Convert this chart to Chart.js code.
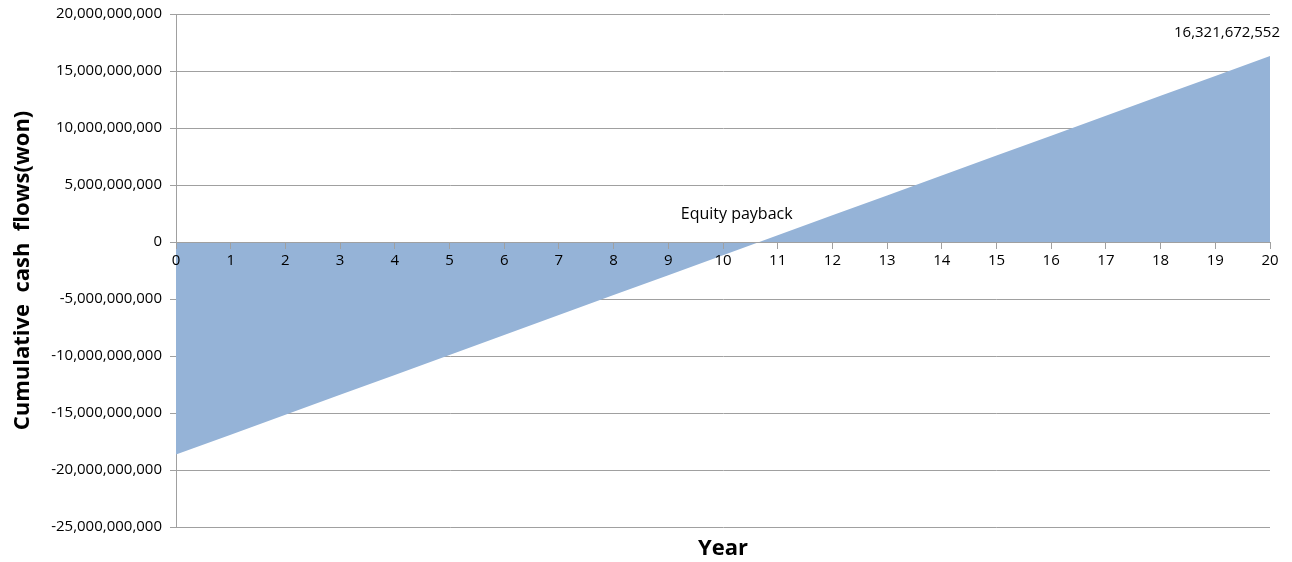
<!DOCTYPE html>
<html>
<head>
<meta charset="utf-8">
<script src="https://cdn.jsdelivr.net/npm/chart.js@4"></script>
<style>
  html, body { margin: 0; padding: 0; background: #fff; }
  #wrap { width: 1292px; height: 562px; }
</style>
</head>
<body>
<div id="wrap"><canvas id="chart" width="1292" height="562"></canvas></div>
<script>
'use strict';
// годы проекта и накопленный денежный поток (вон)
const years = [0, 1, 2, 3, 4, 5, 6, 7, 8, 9, 10, 11, 12, 13, 14, 15, 16, 17, 18, 19, 20];
const cumulative = [
  -18650000000, -16900000000, -15150000000, -13400000000, -11660000000,
  -9910000000, -8160000000, -6410000000, -4660000000, -2910000000,
  -1160000000, 590000000, 2340000000, 4080000000, 5830000000,
  7580000000, 9330000000, 11080000000, 12830000000, 14570000000,
  16321672552
];
const yTicks = [-25000000000, -20000000000, -15000000000, -10000000000, -5000000000, 0,
  5000000000, 10000000000, 15000000000, 20000000000];
const paybackText = 'Equity payback';
const paybackYear = 10.25;

const fmt = v => Number(v).toLocaleString('en-US');
const gridColor = '#a0a0a0';
const tickFont = { family: 'Open Sans', size: 15 };

// подписи: итоговое значение и точка окупаемости
const labelsPlugin = {
  id: 'labels',
  afterDatasetsDraw(chart) {
    const { ctx, scales: { x, y } } = chart;
    const last = cumulative.length - 1;
    ctx.save();
    ctx.fillStyle = '#000';
    ctx.font = '15px "Open Sans"';
    ctx.textAlign = 'right';
    ctx.textBaseline = 'middle';
    ctx.fillText(fmt(cumulative[last]), x.getPixelForValue(years[last]) + 10, y.getPixelForValue(cumulative[last]) - 23);
    ctx.font = '16px "Open Sans"';
    ctx.textAlign = 'center';
    ctx.fillText(paybackText, x.getPixelForValue(paybackYear), y.getPixelForValue(0) - 28);
    ctx.restore();
  }
};

const ctx = document.getElementById('chart').getContext('2d');
new Chart(ctx, {
  type: 'line',
  data: {
    labels: years,
    datasets: [{
      data: years.map((yr, i) => ({ x: yr, y: cumulative[i] })),
      fill: 'origin',
      backgroundColor: 'rgb(149, 179, 215)',
      borderWidth: 0,
      pointRadius: 0,
      tension: 0
    }]
  },
  options: {
    responsive: false,
    animation: false,
    layout: { padding: { top: 14, right: 22, left: 0, bottom: 0 } },
    plugins: { legend: { display: false }, tooltip: { enabled: false } },
    scales: {
      x: {
        type: 'linear',
        min: 0,
        max: 20,
        position: 'bottom',
        ticks: { display: false },
        grid: { display: false },
        border: { display: false },
        title: {
          display: true,
          text: 'Year',
          color: '#000',
          font: { family: 'Open Sans', size: 22, weight: 'bold' },
          padding: { top: 2, bottom: 0 }
        },
        afterFit(scale) { scale.height = 35; }
      },
      // ось лет на нулевой линии, поверх заливки
      xz: {
        type: 'linear',
        min: 0,
        max: 20,
        position: { y: 0 },
        ticks: {
          stepSize: 1,
          color: '#000',
          font: tickFont,
          padding: 4,
          maxRotation: 0,
          z: 2
        },
        grid: { drawOnChartArea: false, drawTicks: true, tickLength: 6, color: gridColor, z: 2 },
        border: { display: true, color: gridColor, width: 1, z: 2 }
      },
      y: {
        min: yTicks[0],
        max: yTicks[yTicks.length - 1],
        afterBuildTicks(scale) { scale.ticks = yTicks.map(v => ({ value: v })); },
        ticks: {
          color: '#000',
          font: tickFont,
          padding: 8,
          callback: v => fmt(v)
        },
        grid: { color: gridColor, tickLength: 6 },
        border: { display: true, color: gridColor },
        title: {
          display: true,
          text: 'Cumulative  cash  flows(won)',
          color: '#000',
          font: { family: 'Open Sans', size: 22, weight: 'bold' },
          padding: { top: 10, bottom: 4 }
        },
        afterFit(scale) {
          scale.width = 176;
          scale.paddingTop = 0;
          scale.paddingBottom = 0;
        }
      }
    }
  },
  plugins: [labelsPlugin]
});
</script>
</body>
</html>
